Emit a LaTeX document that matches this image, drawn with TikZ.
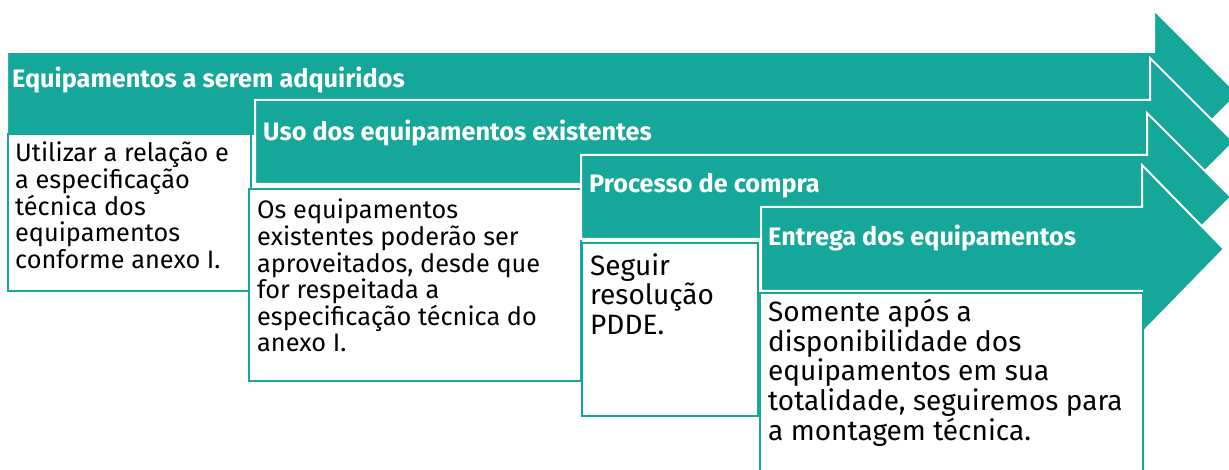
\documentclass[tikz,border=0pt]{standalone}
\usepackage{fontspec}
\setmainfont{Fira Sans}

\definecolor{verde}{RGB}{20,167,154}

\tikzset{
    seta/.style={fill=verde,draw=white,line width=2pt,line join=miter},
    caixa/.style={rectangle,draw=verde,fill=white,line width=2pt,inner sep=0pt,anchor=north west},
    titulo/.style={anchor=west,text=white,inner sep=0pt,font=\bfseries\fontsize{25.3}{28}\selectfont},
    texto/.style={anchor=north west,align=left,inner sep=0pt,font=\fontsize{25.3}{26.6}\selectfont},
    textogrande/.style={texto,font=\fontsize{28}{29.6}\selectfont}
}

\begin{document}
\begin{tikzpicture}[x=1pt,y=-1pt]
    \clip (0,0) rectangle (1229,470);

    % Equipamentos a serem adquiridos
    \draw[seta] (7,52) -- (1154,52) -- (1154,10) -- (1238,94) -- (1154,178) -- (1154,136) -- (7,136) -- cycle;
    \node[caixa,minimum width=243pt,minimum height=157pt] (b1) at (7,133) {};
    \node[titulo] (h1) at (12,80) {Equipamentos a serem adquiridos};
    \node[texto] (t1) at (15,142) {Utilizar a relação e\\a especificação\\técnica dos\\equipamentos\\conforme anexo I.};

    % Uso dos equipamentos existentes
    \draw[seta] (255,100) -- (1150,100) -- (1150,58) -- (1234,142) -- (1150,226) -- (1150,184) -- (255,184) -- cycle;
    \node[caixa,minimum width=332pt,minimum height=192pt] (b2) at (248,188) {};
    \node[titulo] (h2) at (263,133) {Uso dos equipamentos existentes};
    \node[texto] (t2) at (257,199) {Os equipamentos\\existentes poderão ser\\aproveitados, desde que\\for respeitada a\\especificação técnica do\\anexo I.};

    % Processo de compra
    \draw[seta] (581,155) -- (1147,155) -- (1147,113) -- (1231,197) -- (1147,281) -- (1147,239) -- (581,239) -- cycle;
    \node[caixa,minimum width=176pt,minimum height=173pt] (b3) at (581,242) {};
    \node[titulo] (h3) at (589,186) {Processo de compra};
    \node[textogrande] (t3) at (590,253) {Seguir\\resolução\\PDDE.};

    % Entrega dos equipamentos
    \draw[seta] (761,207) -- (1142,207) -- (1142,165) -- (1224,249) -- (1142,333) -- (1142,291) -- (761,291) -- cycle;
    \node[caixa,minimum width=383pt,minimum height=190pt] (b4) at (759,292) {};
    \node[titulo] (h4) at (768,238) {Entrega dos equipamentos};
    \node[textogrande] (t4) at (768,299) {Somente após a\\disponibilidade dos\\equipamentos em sua\\totalidade, seguiremos para\\a montagem técnica.};
\end{tikzpicture}
\end{document}
